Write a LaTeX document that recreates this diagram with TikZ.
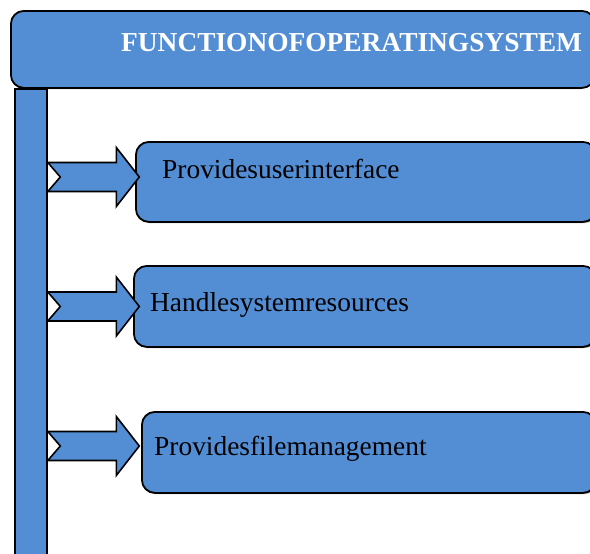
\documentclass[tikz,border=0pt]{standalone}
\usepackage{fontspec}
\setmainfont{Liberation Serif}
\definecolor{boxblue}{RGB}{83,142,213}
\tikzset{
  basebox/.style={draw=black, line width=1.8pt, fill=boxblue, rounded corners=13pt, inner sep=0pt, anchor=north west},
  shadowbox/.style={fill=black!45, rounded corners=13pt},
  blockarrow/.style={draw=black, line width=1.6pt, fill=boxblue, line join=miter},
  itemtext/.style={anchor=base west, inner sep=0pt, font=\fontsize{27.4}{30}\selectfont, text=black},
  titletext/.style={anchor=base west, inner sep=0pt, font=\fontsize{27.4}{32}\selectfont\bfseries, text=white},
}
\begin{document}
\begin{tikzpicture}[x=1pt, y=-1pt]
\useasboundingbox (0,0) rectangle (590,554);
\clip (0,0) rectangle (590,554);
% title
\fill[shadowbox] (11,12) rectangle (594,89);
\node[basebox, minimum width=584pt, minimum height=77pt] (title) at (10,10) {};
\node[titletext] (titlelbl) at (121,51) {FUNCTIONOFOPERATINGSYSTEM};
% vertical bar
\node[draw=black, line width=1.8pt, fill=boxblue, inner sep=0pt, anchor=north west,
      minimum width=32pt, minimum height=480pt] (bar) at (14,88) {};
% item boxes
\fill[shadowbox] (136,144) rectangle (598,223);
\node[basebox, minimum width=460pt, minimum height=80pt] (b1) at (135,141) {};
\fill[shadowbox] (134,268) rectangle (598,348);
\node[basebox, minimum width=462pt, minimum height=81pt] (b2) at (133,265) {};
\fill[shadowbox] (142,414) rectangle (598,494);
\node[basebox, minimum width=454pt, minimum height=81pt] (b3) at (141,411) {};
\node[itemtext] (t1) at (162,178) {Providesuserinterface};
\node[itemtext] (t2) at (150,311) {Handlesystemresources};
\node[itemtext] (t3) at (154,455) {Providesfilemanagement};
% arrows from bar to boxes
\coordinate (y1) at (0,177);
\coordinate (y2) at (0,306.5);
\coordinate (y3) at (0,446);
\foreach \y/\b in {y1/b1, y2/b2, y3/b3}{
  \draw[blockarrow] (bar.east |- \y) ++(0,-14.5) -- ++(68.5,0) -- ++(0,-15) -- ++(23,29.5)
     -- ++(-23,29.5) -- ++(0,-15) -- ++(-68.5,0) -- ++(12.5,-14.5) -- cycle;
}
\end{tikzpicture}
\end{document}
